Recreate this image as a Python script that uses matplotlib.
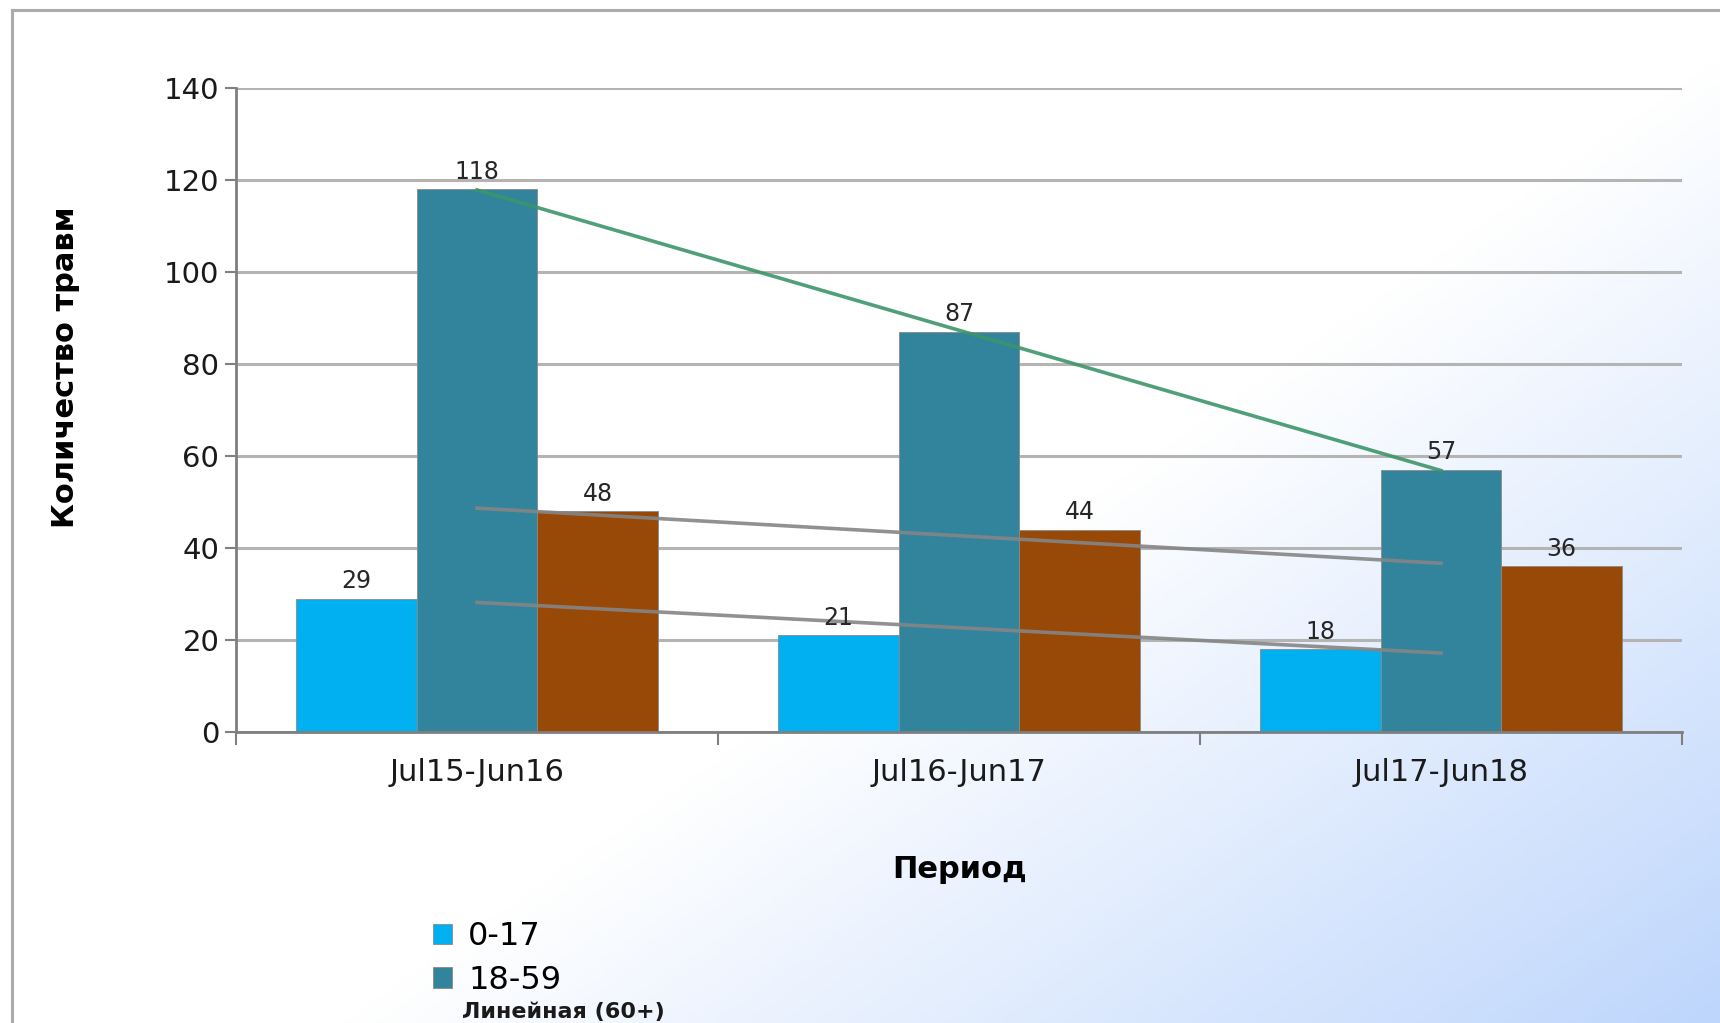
import matplotlib
matplotlib.use("Agg")
import matplotlib.pyplot as plt
import numpy as np
from matplotlib.lines import Line2D

# data
periods = ["Jul15-Jun16", "Jul16-Jun17", "Jul17-Jun18"]
age_groups = ["0-17", "18-59", "60+"]
injuries_0_17 = [29, 21, 18]
injuries_18_59 = [118, 87, 57]
injuries_60 = [48, 44, 36]

bar_colors = ["#00B0F0", "#31849B", "#984807"]
trend_colors = ["#858585", "#3C9569", "#858585"]

plt.rcParams["font.family"] = ["DejaVu Sans"]

W, H = 1720, 1023
fig = plt.figure(figsize=(W / 100, H / 100), dpi=100)

# background gradient: white top-left -> light blue bottom-right
bg = fig.add_axes([0, 0, 1, 1], zorder=-10)
xx, yy = np.meshgrid(np.linspace(0, 1, 400), np.linspace(0, 1, 240))
t = np.clip(1.25 * xx + 1.06 * yy - 1.31, 0, 1)
white = np.array([255, 255, 255]) / 255
blue = np.array([190, 214, 252]) / 255
img = white[None, None, :] * (1 - t[..., None]) + blue[None, None, :] * t[..., None]
bg.imshow(img, extent=[0, 1, 0, 1], aspect="auto", origin="upper")
bg.set_xlim(0, 1)
bg.set_ylim(0, 1)
bg.axis("off")

# frame lines
fig.add_artist(Line2D([12 / W, 1], [1 - 10 / H, 1 - 10 / H], transform=fig.transFigure,
                      color="#ababab", lw=2.2))
fig.add_artist(Line2D([12 / W, 12 / W], [0, 1 - 10 / H], transform=fig.transFigure,
                      color="#ababab", lw=2.2))

ax = fig.add_axes([236 / W, 1 - 732 / H, (1682 - 236) / W, (732 - 88) / H])
ax.set_facecolor("none")

x = np.arange(len(periods)) + 0.5
width = 0.25
series = [injuries_0_17, injuries_18_59, injuries_60]
for i, vals in enumerate(series):
    pos = x + (i - 1) * width
    bars = ax.bar(pos, vals, width, color=bar_colors[i], label=age_groups[i],
                  edgecolor="#8a8a8a", linewidth=0.6, zorder=2)
    for b, v in zip(bars, vals):
        ax.annotate(str(v), (b.get_x() + b.get_width() / 2, v), xytext=(0, 4),
                    textcoords="offset points", ha="center", va="bottom",
                    fontsize=17, color="#262626", zorder=5)

# linear trend lines
for i, vals in enumerate(series):
    k, b0 = np.polyfit(np.arange(len(vals)), vals, 1)
    ax.plot([x[0], x[-1]], [b0, b0 + k * (len(vals) - 1)], color=trend_colors[i],
            lw=2.6, alpha=0.9, zorder=4)

ax.set_xlim(0, 3)
ax.set_ylim(0, 140)
ax.set_yticks(range(0, 141, 20))
ax.yaxis.grid(True, color="#b4b4b4", lw=2.2, zorder=0)
ax.set_axisbelow(True)

ax.set_xticks([0, 1, 2, 3])
ax.set_xticklabels([])
ax.set_xticks(x, minor=True)
ax.set_xticklabels(periods, minor=True)
ax.tick_params(axis="x", which="major", length=9, width=1.5, color="#7f7f7f")
ax.tick_params(axis="x", which="minor", length=0, pad=19, labelsize=22,
               labelcolor="#1a1a1a")
ax.tick_params(axis="y", length=8, width=1.5, color="#7f7f7f", labelsize=21, pad=4,
               labelcolor="#1a1a1a")

for s in ["top", "right"]:
    ax.spines[s].set_visible(False)
for s in ["left", "bottom"]:
    ax.spines[s].set_color("#7f7f7f")
    ax.spines[s].set_linewidth(2)

fig.text(960 / W, 1 - 870 / H, "Период", ha="center", va="center",
         fontsize=22, fontweight="bold")
fig.text(66 / W, 1 - 367 / H, "Количество травм", ha="center", va="center",
         rotation=90, fontsize=22, fontweight="bold")

handles, labels = ax.get_legend_handles_labels()
leg = fig.legend(handles[:2], labels[:2], loc="upper left",
                 bbox_to_anchor=(417 / W, 1 - 905 / H), frameon=False,
                 fontsize=23, handlelength=0.6, handleheight=0.6,
                 handletextpad=0.5, labelspacing=0.4, borderpad=0)
fig.text(462 / W, 1 / H, "Линейная (60+)", ha="left", va="bottom",
         fontsize=16, fontweight="bold", color="#1a1a1a")

fig.savefig("out.png", dpi=100)
